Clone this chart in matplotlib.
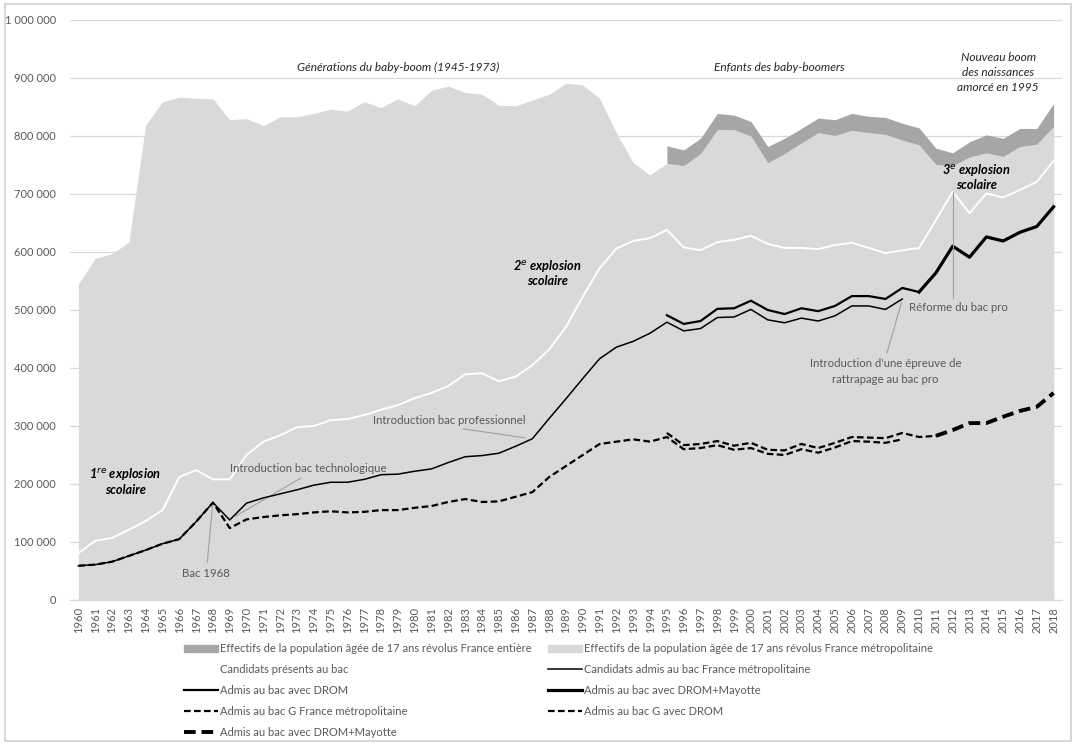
#!/usr/bin/env python3
"""
plot.py - Population de 17 ans et bacheliers en France, 1960-2018.

Reproduit le graphique des trois "explosions scolaires" :
aires grises pour les effectifs de 17 ans, courbes pour les
candidats présents et admis au baccalauréat.
"""

import matplotlib
matplotlib.use("Agg")
import matplotlib.pyplot as plt
from matplotlib.patches import Patch
from matplotlib.lines import Line2D
from matplotlib.ticker import FuncFormatter, MultipleLocator

plt.rcParams["font.family"] = ["Lato", "DejaVu Sans"]

# --- Données ---------------------------------------------------------------
years = list(range(1960, 2019))

# Effectifs de la population âgée de 17 ans révolus, France métropolitaine
pop_metro = [
    545000, 589000, 597000, 617000, 819000, 859000, 867000, 865000, 864000, 828000,
    830000, 818000, 833000, 833000, 839000, 846000, 843000, 859000, 849000, 864000,
    852000, 879000, 886000, 875000, 872000, 853000, 852000, 862000, 872000, 891000,
    888000, 865000, 805000, 754000, 733000, 753000, 749000, 770000, 811000, 811000,
    800000, 754000, 770000, 788000, 806000, 801000, 810000, 806000, 803000, 793000,
    785000, 751000, 749000, 764000, 771000, 765000, 782000, 786000, 817000,
]

# Effectifs de la population âgée de 17 ans révolus, France entière (1995-2018)
years_fr = list(range(1995, 2019))
pop_france = [
    783000, 776000, 796000, 839000, 836000, 825000, 782000, 796000, 813000, 831000,
    828000, 839000, 834000, 832000, 822000, 814000, 779000, 771000, 790000, 802000,
    796000, 813000, 813000, 856000,
]

# Candidats présents au bac
presents = [
    81000, 102000, 107000, 121000, 136000, 155000, 212000, 224000, 208000, 208000,
    250000, 273000, 284000, 298000, 300000, 310000, 312000, 319000, 328000, 336000,
    348000, 357000, 369000, 389000, 391000, 377000, 385000, 405000, 432000, 471000,
    523000, 572000, 606000, 619000, 624000, 638000, 608000, 603000, 617000, 621000,
    628000, 614000, 607000, 607000, 605000, 612000, 616000, 607000, 598000, 603000,
    607000, 655000, 704000, 667000, 701000, 694000, 707000, 721000, 757000,
]

# Candidats admis au bac France métropolitaine (1960-2009)
years_metro = list(range(1960, 2010))
admis_metro = [
    59000, 61000, 66000, 76000, 86000, 97000, 105000, 135000, 168000, 138000,
    167000, 176000, 183000, 190000, 198000, 203000, 203000, 208000, 216000, 217000,
    222000, 226000, 237000, 247000, 249000, 253000, 265000, 278000, 313000, 347000,
    382000, 416000, 436000, 446000, 460000, 479000, 464000, 468000, 487000, 488000,
    501000, 483000, 478000, 486000, 481000, 490000, 507000, 507000, 501000, 519000,
]

# Admis au bac avec DROM (1995-2010)
years_drom = list(range(1995, 2011))
admis_drom = [
    491000, 476000, 481000, 502000, 503000, 516000, 500000, 493000, 503000, 498000,
    507000, 524000, 524000, 519000, 538000, 531000,
]

# Admis au bac avec DROM+Mayotte (2010-2018)
years_may = list(range(2010, 2019))
admis_may = [531000, 564000, 610000, 591000, 626000, 619000, 634000, 644000, 678000]

# Admis au bac G France métropolitaine (1960-2009)
admis_g_metro = [
    59000, 61000, 66000, 76000, 86000, 97000, 105000, 135000, 168000, 124000,
    139000, 143000, 146000, 148000, 151000, 153000, 151000, 152000, 155000, 155000,
    159000, 162000, 169000, 174000, 169000, 170000, 178000, 186000, 212000, 231000,
    250000, 269000, 273000, 277000, 273000, 281000, 260000, 262000, 267000, 259000,
    262000, 252000, 250000, 260000, 254000, 263000, 274000, 273000, 271000, 277000,
]

# Admis au bac G avec DROM (1995-2011)
years_g_drom = list(range(1995, 2012))
admis_g_drom = [
    288000, 267000, 269000, 274000, 266000, 271000, 259000, 258000, 269000, 262000,
    271000, 281000, 280000, 279000, 288000, 281000, 283000,
]

# Admis au bac G avec DROM+Mayotte (2011-2018)
years_g_may = list(range(2011, 2019))
admis_g_may = [283000, 293000, 305000, 305000, 316000, 326000, 333000, 357000]

GREY_TEXT = "#595959"
LIGHT = "#d9d9d9"
DARK = "#a6a6a6"


def space_thousands(v, pos):
    return f"{int(v):,}".replace(",", " ")


def main():
    fig = plt.figure(figsize=(10.76, 7.45), dpi=100)
    # cadre gris autour de la figure
    fig.add_artist(plt.Rectangle((5 / 1076, 4 / 745), 1066 / 1076, 737 / 745,
                                 transform=fig.transFigure, fill=False,
                                 edgecolor="#d0d0d0", lw=1.2))
    ax = fig.add_axes([70 / 1076, 1 - 600 / 745, 992 / 1076, 580 / 745])

    # Aires
    ax.fill_between(years_fr, 0, pop_france, color=DARK, lw=0, zorder=1)
    ax.fill_between(years, 0, pop_metro, color=LIGHT, lw=0, zorder=2)

    # Courbes
    ax.plot(years, presents, color="white", lw=1.4, zorder=3)
    ax.plot(years_metro, admis_metro, color="black", lw=1.1, zorder=4)
    ax.plot(years_drom, admis_drom, color="black", lw=1.6, zorder=4)
    ax.plot(years_may, admis_may, color="black", lw=2.3, zorder=4)
    ax.plot(years_metro, admis_g_metro, color="black", lw=1.6,
            dashes=(3, 1.5), zorder=4)
    ax.plot(years_g_drom, admis_g_drom, color="black", lw=1.6,
            dashes=(3, 1.5), zorder=4)
    ax.plot(years_g_may, admis_g_may, color="black", lw=2.8,
            dashes=(3, 1.5), zorder=4)

    # Axes
    ax.set_xlim(1959.5, 2018.5)
    ax.set_ylim(0, 1000000)
    ax.yaxis.set_major_locator(MultipleLocator(100000))
    ax.yaxis.set_major_formatter(FuncFormatter(space_thousands))
    ax.set_xticks(years)
    ax.set_xticklabels([str(y) for y in years], rotation=90)
    ax.tick_params(axis="both", colors=GREY_TEXT, labelsize=8, length=0)
    ax.tick_params(axis="y", pad=10)
    ax.tick_params(axis="x", pad=5)
    ax.grid(axis="y", color=LIGHT, lw=0.9, zorder=0)
    ax.set_axisbelow(True)
    for side in ["top", "right", "left"]:
        ax.spines[side].set_visible(False)
    ax.spines["bottom"].set_color(LIGHT)

    # Périodes démographiques
    it = dict(style="italic", fontsize=8.6, color="#262626", ha="center")
    ax.text(1979.0, 912000, "Générations du baby-boom (1945-1973)", **it)
    ax.text(2001.7, 912000, "Enfants des baby-boomers", **it)
    ax.text(2014.7, 877000, "Nouveau boom\ndes naissances\namorcé en 1995",
            linespacing=1.45, **it)

    # Explosions scolaires
    bo = dict(style="italic", weight="bold", fontsize=9.2, color="black",
              ha="center", linespacing=1.12)
    ax.text(1962.8, 182000, "1$^{re}$ explosion\nscolaire", **bo)
    ax.text(1987.9, 543000, "2$^{e}$ explosion\nscolaire", **bo)
    ax.text(2013.4, 709000, "3$^{e}$ explosion\nscolaire", **bo)

    # Repères
    an = dict(fontsize=8.2, color=GREY_TEXT)
    ap = dict(arrowstyle="-", color="#a0a0a0", lw=0.8)
    ax.annotate("Bac 1968", xy=(1968, 168000), xytext=(1967.6, 46000),
                ha="center", va="center", arrowprops=ap, **an)
    ax.annotate("Introduction bac technologique", xy=(1969.2, 142000),
                xytext=(1969.0, 227000), ha="left", va="center",
                arrowprops=dict(ap, relpos=(0.5, 0)), **an)
    ax.annotate("Introduction bac professionnel", xy=(1986.7, 279000),
                xytext=(1977.5, 310000), ha="left", va="center",
                arrowprops=dict(ap, relpos=(0.45, 0)), **an)
    ax.text(2009.4, 504000, "Réforme du bac pro", ha="left", va="center", **an)
    ax.plot([2012, 2012], [704000, 520000], color="#a0a0a0", lw=0.8, zorder=5)
    ax.annotate("Introduction d'une épreuve de\nrattrapage au bac pro",
                xy=(2009, 518000), xytext=(2008.0, 394000), ha="center",
                va="center", linespacing=1.45,
                arrowprops=dict(ap, relpos=(0.5, 1.0)), **an)

    # Légende
    handles = [
        Patch(color=DARK),
        Line2D([], [], color="white", lw=1.4),
        Line2D([], [], color="black", lw=1.6),
        Line2D([], [], color="black", lw=1.6, dashes=(3, 1.5)),
        Line2D([], [], color="black", lw=2.8, dashes=(3, 1.5)),
        Patch(color=LIGHT),
        Line2D([], [], color="black", lw=1.1),
        Line2D([], [], color="black", lw=2.3),
        Line2D([], [], color="black", lw=1.6, dashes=(3, 1.5)),
    ]
    labels = [
        "Effectifs de la population âgée de 17 ans révolus France entière",
        "Candidats présents au bac",
        "Admis au bac avec DROM",
        "Admis au bac G France métropolitaine",
        "Admis au bac avec DROM+Mayotte",
        "Effectifs de la population âgée de 17 ans révolus France métropolitaine",
        "Candidats admis au bac France métropolitaine",
        "Admis au bac avec DROM+Mayotte",
        "Admis au bac G avec DROM",
    ]
    leg = fig.legend(handles, labels, loc="upper left", ncol=2,
                     bbox_to_anchor=(180 / 1076, 1 - 639 / 745),
                     frameon=False, fontsize=8, handlelength=3.0,
                     handleheight=0.7, handletextpad=0.2,
                     labelspacing=0.88, columnspacing=1.5, borderaxespad=0)
    for t in leg.get_texts():
        t.set_color(GREY_TEXT)

    fig.savefig("out.png", dpi=100)


if __name__ == "__main__":
    main()
